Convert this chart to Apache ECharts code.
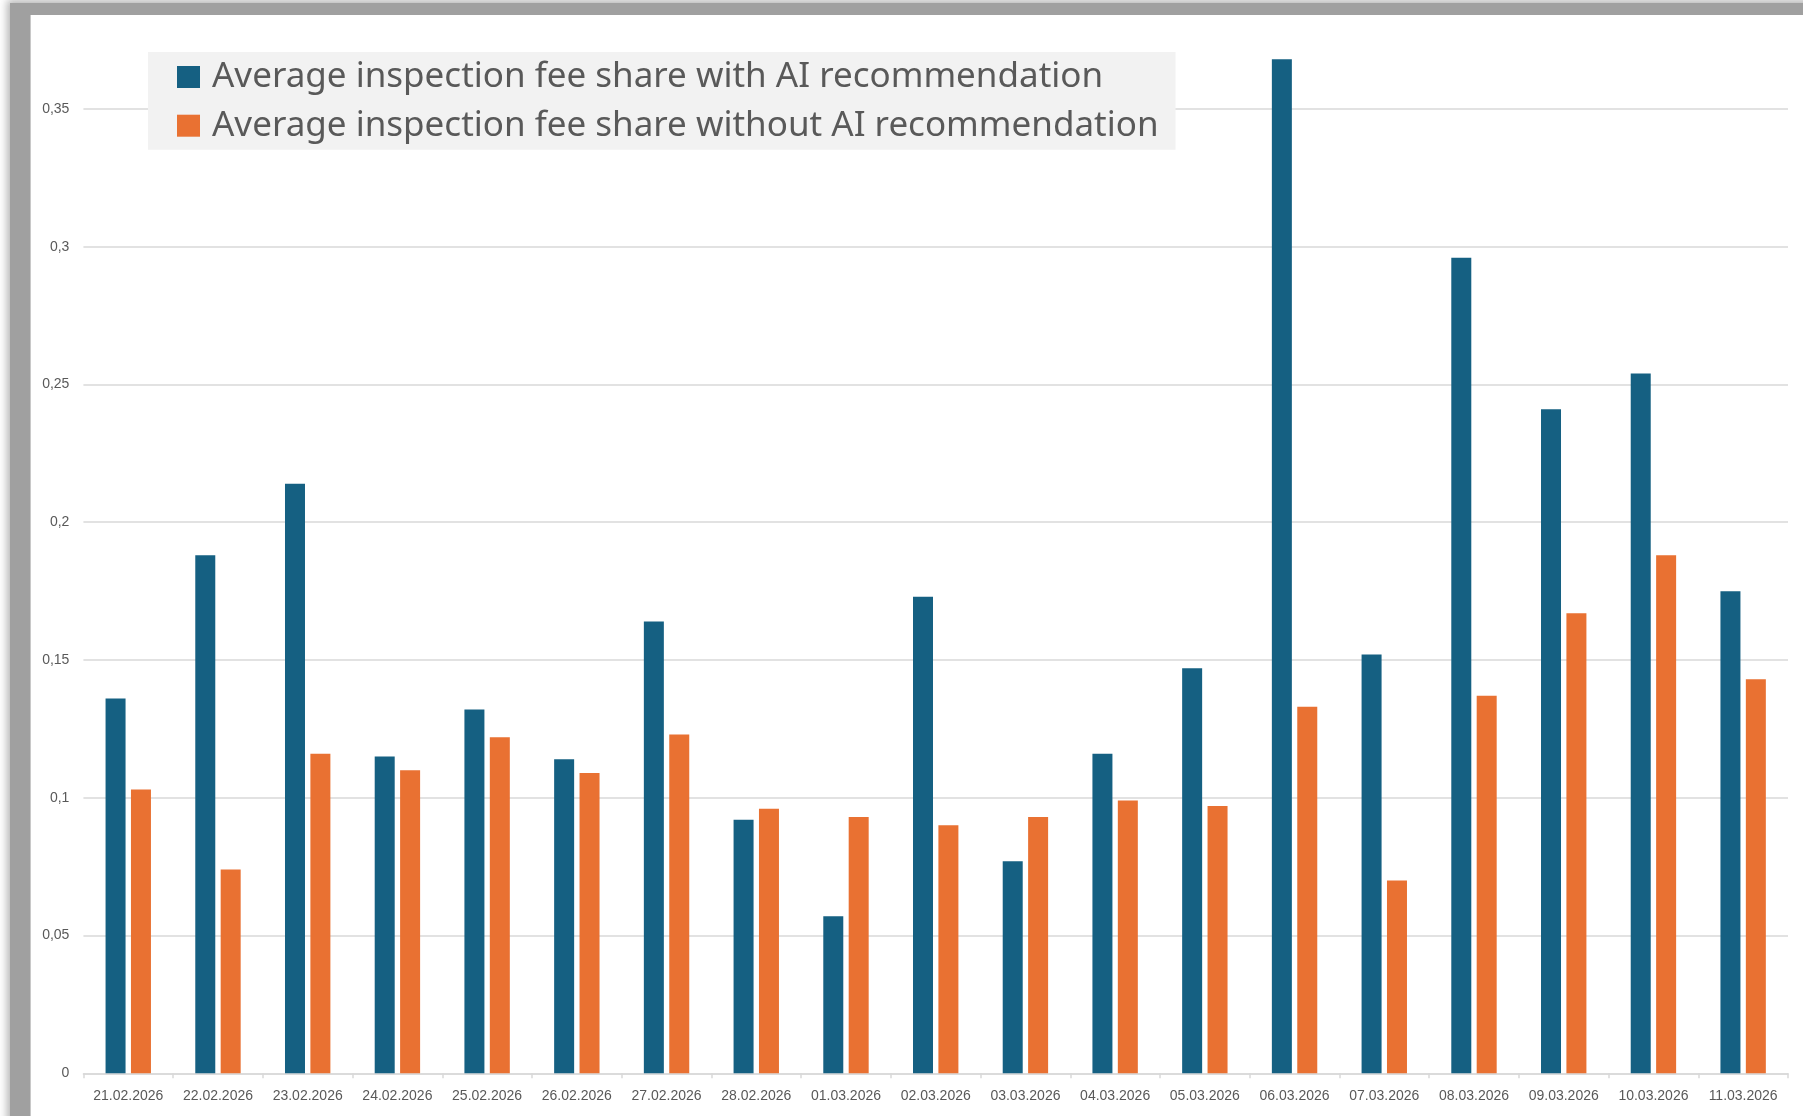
<!DOCTYPE html>
<html>
<head>
<meta charset="utf-8">
<script src="https://cdn.jsdelivr.net/npm/echarts@6/dist/echarts.min.js"></script>
<style>
  html, body { margin: 0; padding: 0; width: 1803px; height: 1116px; overflow: hidden; background: #fff; }
  #frame { position: absolute; left: 10px; top: 3px; width: 1850px; height: 1160px; background: #a0a0a0;
           box-shadow: 0 0 8px 3px rgba(150,150,150,0.7); }
  #paper { position: absolute; left: 30px; top: 15px; width: 1800px; height: 1140px; background: #fff;
           border-left: 1px solid #c8c8c8; box-sizing: border-box; }
  #main { position: absolute; left: 0; top: 0; width: 1803px; height: 1116px; }
</style>
</head>
<body>
<div id="frame"></div>
<div id="paper"></div>
<div id="main"></div>
<script>
const categories = ['21.02.2026','22.02.2026','23.02.2026','24.02.2026','25.02.2026','26.02.2026','27.02.2026','28.02.2026','01.03.2026','02.03.2026','03.03.2026','04.03.2026','05.03.2026','06.03.2026','07.03.2026','08.03.2026','09.03.2026','10.03.2026','11.03.2026'];
const withAI =    [0.136, 0.188, 0.214, 0.115, 0.132, 0.114, 0.164, 0.092, 0.057, 0.173, 0.077, 0.116, 0.147, 0.368, 0.152, 0.296, 0.241, 0.254, 0.175];
const withoutAI = [0.103, 0.074, 0.116, 0.110, 0.122, 0.109, 0.123, 0.096, 0.093, 0.090, 0.093, 0.099, 0.097, 0.133, 0.070, 0.137, 0.167, 0.188, 0.143];
const seriesNames = ['Average inspection fee share with AI recommendation', 'Average inspection fee share without AI recommendation'];

const chart = echarts.init(document.getElementById('main'), null, { renderer: 'canvas' });
chart.setOption({
  backgroundColor: 'transparent',
  animation: false,
  textStyle: { fontFamily: 'Liberation Sans' },
  grid: { left: 83.4, right: 15, top: 26.3, bottom: 42.7, containLabel: false },
  legend: {
    orient: 'vertical',
    left: 148, top: 52,
    backgroundColor: '#f2f2f2',
    padding: [5, 17, 4, 29],
    itemWidth: 23, itemHeight: 22,
    itemGap: 8.7,
    icon: 'rect',
    selectedMode: false,
    textStyle: { fontSize: 35, color: '#595959', lineHeight: 40, padding: [0, 0, 0, 7], fontFamily: 'Noto Sans' }
  },
  xAxis: {
    type: 'category',
    data: categories,
    axisLine: { lineStyle: { color: '#d9d9d9', width: 1.5 } },
    axisTick: { show: true, length: 5, lineStyle: { color: '#d9d9d9', width: 1.5 } },
    axisLabel: { color: '#595959', fontSize: 14, margin: 16, interval: 0 }
  },
  yAxis: {
    type: 'value',
    min: 0, max: 0.38, interval: 0.05,
    axisLine: { show: false },
    axisTick: { show: false },
    splitLine: { lineStyle: { color: '#d9d9d9', width: 1.5 }, showMaxLine: false },
    axisLabel: {
      color: '#595959', fontSize: 14, margin: 14, showMaxLabel: false,
      formatter: v => (Math.abs(v / 0.05 - Math.round(v / 0.05)) < 1e-6) ? String(Number(v.toFixed(2))).replace('.', ',') : ''
    }
  },
  series: [
    { name: seriesNames[0], type: 'bar', data: withAI, barWidth: 20, barGap: '27%', itemStyle: { color: '#156082' } },
    { name: seriesNames[1], type: 'bar', data: withoutAI, barWidth: 20, barGap: '27%', itemStyle: { color: '#E97132' } }
  ]
});
</script>
</body>
</html>
